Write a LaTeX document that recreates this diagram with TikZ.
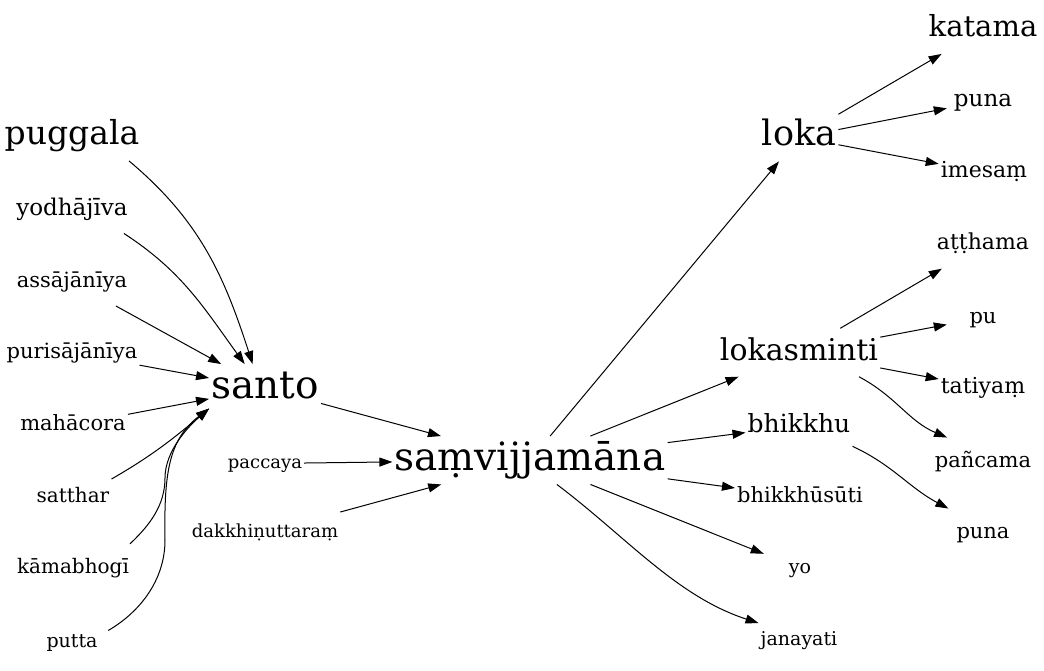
\documentclass[tikz,border=0pt]{standalone}
\usepackage{fontspec}
\setmainfont{DejaVu Serif}
\usetikzlibrary{arrows.meta}
\tikzset{
  word/.style={inner xsep=2pt, inner ysep=1pt, minimum width=72pt, minimum height=48pt, anchor=base},
  sz/.style={word, font=\fontsize{#1pt}{#1pt}\selectfont, text height=0.75*#1pt, text depth=0.25*#1pt},
  link/.style={->, >={Triangle[length=13pt,width=9pt]}, line width=1pt},
}

\begin{document}
\begin{tikzpicture}[x=1pt, y=1pt]
        \useasboundingbox (0,0) rectangle (1044,-671);

        % left column
        \node[sz=33] (puggala)  at (72, -145) {puggala};
        \node[sz=23] (yodha)    at (72, -215) {yodhājīva};
        \node[sz=21] (assa)     at (72, -287) {assājānīya};
        \node[sz=21] (purisa)   at (72, -358) {purisājānīya};
        \node[sz=21] (maha)     at (73, -430) {mahācora};
        \node[sz=20] (sattha)   at (73, -502) {satthar};
        \node[sz=20] (kama)     at (73, -573) {kāmabhogī};
        \node[sz=19] (putta)    at (72, -647) {putta};

        % second column
        \node[sz=39] (santo)    at (265, -398) {santo};
        \node[sz=18] (paccaya)  at (265, -468) {paccaya};
        \node[sz=18] (dakkhina) at (265, -537) {dakkhiṇuttaraṃ};

        \node[sz=39] (samv)     at (530, -470) {saṃvijjamāna};

        % fourth column
        \node[sz=35] (loka)     at (799, -146) {loka};
        \node[sz=30] (lokas)    at (799, -360) {lokasminti};
        \node[sz=25] (bhikkhu)  at (799, -432) {bhikkhu};
        \node[sz=21] (bhikkhus) at (800, -502) {bhikkhūsūti};
        \node[sz=19] (yo)       at (800, -573) {yo};
        \node[sz=19] (janayati) at (799, -645) {janayati};

        % right column
        \node[sz=29] (katama)   at (983, -37)  {katama};
        \node[sz=23] (puna1)    at (983, -107) {puna};
        \node[sz=22] (imesam)   at (984, -178) {imesaṃ};
        \node[sz=22] (atthama)  at (983, -250) {aṭṭhama};
        \node[sz=21] (pu)       at (983, -323) {pu};
        \node[sz=22] (tatiyam)  at (983, -393) {tatiyaṃ};
        \node[sz=21] (pancama)  at (983, -467) {pañcama};
        \node[sz=21] (puna2)    at (983, -538) {puna};

        % into santo
        \draw[link] (puggala.-23) to[out=-40, in=108] (santo.117);
        \draw[link] (yodha.-25)   to[out=-33, in=126] (santo.130);
        \draw[link] (assa)   -- (santo);
        \draw[link] (purisa) -- (santo);
        \draw[link] (maha)   -- (santo);
        \draw[link] (sattha.25) to[out=30, in=-140] (santo.200);
        \draw[link] (kama.23) .. controls (150,-525) and (165,-505) .. (165,-478)
                              .. controls (165,-450) and (190,-425) .. (santo.200);
        \draw[link] (putta.18) .. controls (140,-612) and (165,-580) .. (165,-540)
                               .. controls (164,-475) and (168,-440) .. (santo.200);

        % into samv
        \draw[link] (santo)    -- (samv);
        \draw[link] (paccaya)  -- (samv);
        \draw[link] (dakkhina) -- (samv);

        % out of samv
        \draw[link] (samv) -- (loka);
        \draw[link] (samv) -- (lokas);
        \draw[link] (samv) -- (bhikkhu);
        \draw[link] (samv) -- (bhikkhus);
        \draw[link] (samv) -- (yo);
        \draw[link] (samv.-42) to[out=-37, in=162, looseness=0.9] (janayati.157);

        % right side
        \draw[link] (loka) -- (katama);
        \draw[link] (loka) -- (puna1);
        \draw[link] (loka) -- (imesam);
        \draw[link] (lokas) -- (atthama);
        \draw[link] (lokas) -- (pu);
        \draw[link] (lokas) -- (tatiyam);
        \draw[link] (lokas.-22) to[out=-28, in=157] (pancama.146);
        \draw[link] (bhikkhu.-21) to[out=-25, in=152] (puna2.145);
\end{tikzpicture}
\end{document}
